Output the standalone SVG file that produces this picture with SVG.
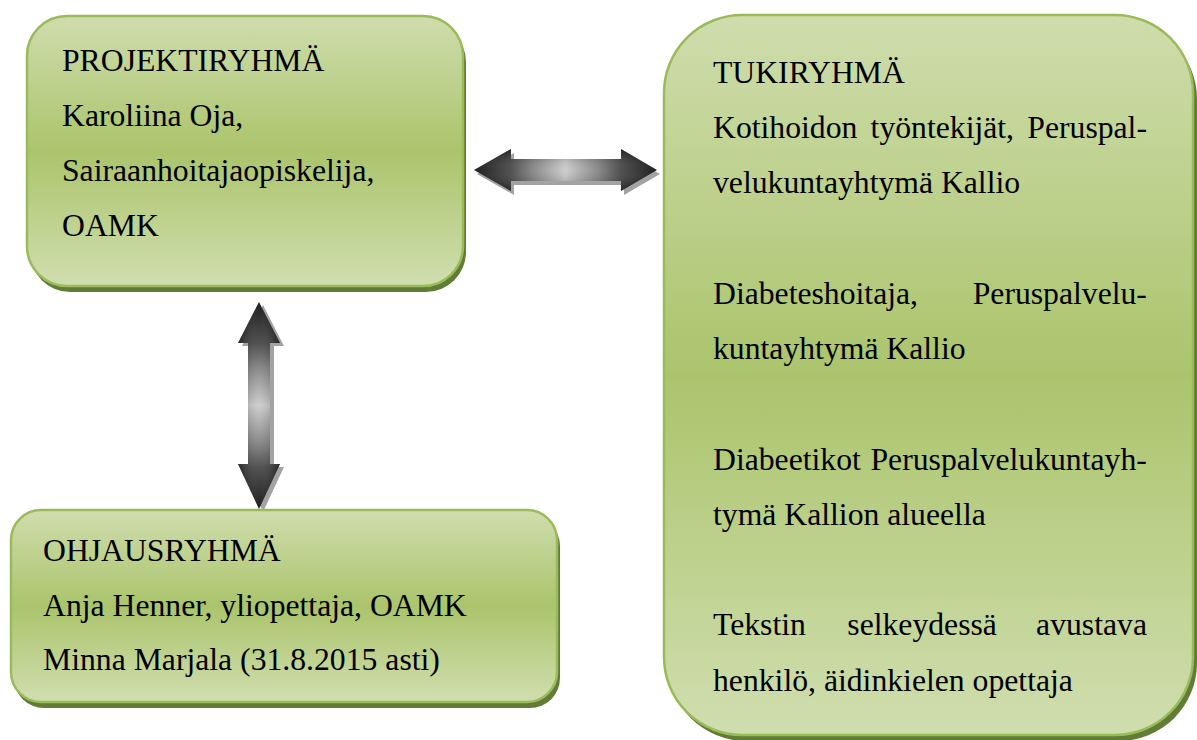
<svg xmlns="http://www.w3.org/2000/svg" width="1197" height="740" viewBox="0 0 1197 740">
  <defs>
    <linearGradient id="boxFill" x1="0" y1="0" x2="0" y2="1">
      <stop offset="0" stop-color="#cfddad"/>
      <stop offset="0.5" stop-color="#abc46c"/>
      <stop offset="1" stop-color="#d0deaf"/>
    </linearGradient>
    <linearGradient id="arrowH" x1="0" y1="0" x2="1" y2="0">
      <stop offset="0" stop-color="#000"/>
      <stop offset="0.2" stop-color="#3a3a3a"/>
      <stop offset="0.32" stop-color="#7a7a7a"/>
      <stop offset="0.5" stop-color="#c8c8c8"/>
      <stop offset="0.68" stop-color="#7a7a7a"/>
      <stop offset="0.8" stop-color="#3a3a3a"/>
      <stop offset="1" stop-color="#000"/>
    </linearGradient>
    <linearGradient id="arrowV" x1="0" y1="0" x2="0" y2="1">
      <stop offset="0" stop-color="#000"/>
      <stop offset="0.2" stop-color="#3a3a3a"/>
      <stop offset="0.32" stop-color="#7a7a7a"/>
      <stop offset="0.5" stop-color="#c8c8c8"/>
      <stop offset="0.68" stop-color="#7a7a7a"/>
      <stop offset="0.8" stop-color="#3a3a3a"/>
      <stop offset="1" stop-color="#000"/>
    </linearGradient>
    <linearGradient id="shadeH" x1="0" y1="0" x2="0" y2="1">
      <stop offset="0" stop-color="#000" stop-opacity="0.35"/>
      <stop offset="0.5" stop-color="#fff" stop-opacity="0.12"/>
      <stop offset="1" stop-color="#000" stop-opacity="0.35"/>
    </linearGradient>
    <linearGradient id="shadeV" x1="0" y1="0" x2="1" y2="0">
      <stop offset="0" stop-color="#000" stop-opacity="0.35"/>
      <stop offset="0.5" stop-color="#fff" stop-opacity="0.12"/>
      <stop offset="1" stop-color="#000" stop-opacity="0.35"/>
    </linearGradient>
  </defs>
  <style>
    .shadow { fill: #617c37; }
    .box { fill: url(#boxFill); stroke: #9bbb59; stroke-width: 2.5; }
    .t { font-size: 31.7px; fill: #000; }
    .ashadow { fill: #a3a3a3; }
  </style>
  <rect width="1197" height="740" fill="#fff"/>

  <g id="connectors">
    <g id="arrow-projekti-tuki">
      <polygon class="ashadow" transform="translate(3,4)" points="474,170 511,149 511,159 621,159 621,149 657,170 621,191 621,181 511,181 511,191"/>
      <polygon fill="url(#arrowH)" points="474,170 511,149 511,159 621,159 621,149 657,170 621,191 621,181 511,181 511,191"/>
      <polygon fill="url(#shadeH)" points="474,170 511,149 511,159 621,159 621,149 657,170 621,191 621,181 511,181 511,191"/>
    </g>
    <g id="arrow-projekti-ohjaus">
      <polygon class="ashadow" transform="translate(4,3)" points="259,302 280,343 270,343 270,464 280,464 259,509 238,464 248,464 248,343 238,343"/>
      <polygon fill="url(#arrowV)" points="259,302 280,343 270,343 270,464 280,464 259,509 238,464 248,464 248,343 238,343"/>
      <polygon fill="url(#shadeV)" points="259,302 280,343 270,343 270,464 280,464 259,509 238,464 248,464 248,343 238,343"/>
    </g>
  </g>

  <g id="node-projektiryhma" font-family="Liberation Serif, DejaVu Serif, serif">
    <rect class="shadow" x="30" y="22" width="436" height="270" rx="40"/>
    <rect class="box" x="27" y="16" width="436" height="270" rx="40"/>
    <text class="t" x="62" y="71">PROJEKTIRYHMÄ</text>
    <text class="t" x="62" y="126">Karoliina Oja,</text>
    <text class="t" x="62" y="181">Sairaanhoitajaopiskelija,</text>
    <text class="t" x="62" y="236">OAMK</text>
  </g>

  <g id="node-ohjausryhma" font-family="Liberation Serif, DejaVu Serif, serif">
    <rect class="shadow" x="14" y="516" width="546" height="192" rx="30"/>
    <rect class="box" x="11" y="510" width="546" height="192" rx="30"/>
    <text class="t" x="43" y="561">OHJAUSRYHMÄ</text>
    <text class="t" x="43" y="615.5">Anja Henner, yliopettaja, OAMK</text>
    <text class="t" x="43" y="670">Minna Marjala (31.8.2015 asti)</text>
  </g>

  <g id="node-tukiryhma" font-family="Liberation Serif, DejaVu Serif, serif">
    <rect class="shadow" x="668" y="21" width="529" height="720" rx="78"/>
    <rect class="box" x="664" y="15" width="529" height="720" rx="78"/>
    <text class="t" x="713" y="82.5">TUKIRYHMÄ</text>
    <text class="t" y="137.5"><tspan x="713">Kotihoidon</tspan><tspan x="870.6">työntekijät,</tspan><tspan x="1027.3">Peruspal-</tspan></text>
    <text class="t" x="713" y="193">velukuntayhtymä Kallio</text>
    <text class="t" y="303.5"><tspan x="713">Diabeteshoitaja,</tspan><tspan x="972.7">Peruspalvelu-</tspan></text>
    <text class="t" x="713" y="359">kuntayhtymä Kallio</text>
    <text class="t" y="469.5"><tspan x="713">Diabeetikot</tspan><tspan x="870.5">Peruspalvelukuntayh-</tspan></text>
    <text class="t" x="713" y="524.5">tymä Kallion alueella</text>
    <text class="t" y="635"><tspan x="713">Tekstin</tspan><tspan x="847.3">selkeydessä</tspan><tspan x="1036.1">avustava</tspan></text>
    <text class="t" x="713" y="690.5">henkilö, äidinkielen opettaja</text>
  </g>
</svg>
